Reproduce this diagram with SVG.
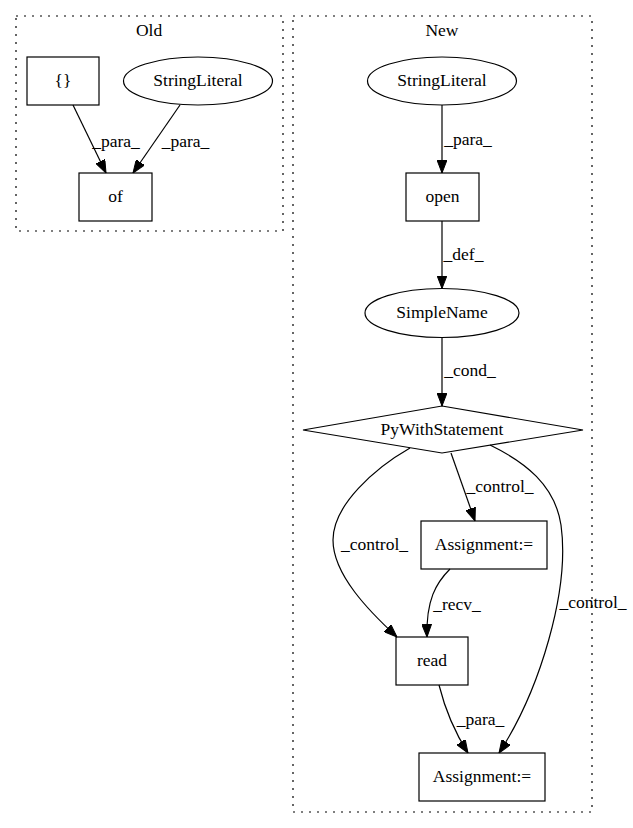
<svg xmlns="http://www.w3.org/2000/svg" width="633" height="828" viewBox="0 0 633 828">
<style>
text{font-family:"Liberation Serif","Times New Roman",serif;font-size:17.5px;fill:#000;text-anchor:middle}
.node{fill:none;stroke:#000;stroke-width:1.2}
.cluster{fill:none;stroke:#000;stroke-width:1.2;stroke-dasharray:2,6}
.edge{fill:none;stroke:#000;stroke-width:1.2;marker-end:url(#arrow)}
</style>
<defs>
<marker id="arrow" viewBox="0 0 13 10" refX="13" refY="5" markerWidth="13" markerHeight="10" markerUnits="userSpaceOnUse" orient="auto">
<path d="M0,0 L13,5 L0,10 z" fill="#000" stroke="#000" stroke-width="1"/>
</marker>
</defs>
<rect width="633" height="828" fill="#fff"/>
<g id="cluster_old">
<rect class="cluster" x="16" y="16" width="267" height="215"/>
<text x="149" y="36">Old</text>
</g>
<g id="cluster_new">
<rect class="cluster" x="293" y="16" width="299" height="796"/>
<text x="442" y="36">New</text>
</g>
<g id="connectors">
<path class="edge" d="M73,105 L106,173"/>
<text x="116" y="147">_para_</text>
<path class="edge" d="M180,105 L133,173"/>
<text x="185.5" y="147">_para_</text>
<path class="edge" d="M442,105 L442,173"/>
<text x="468" y="145">_para_</text>
<path class="edge" d="M442,221 L442,288.5"/>
<text x="463.5" y="260">_def_</text>
<path class="edge" d="M442,337.5 L442,406"/>
<text x="470" y="376">_cond_</text>
<path class="edge" d="M451,453 L475,521"/>
<text x="500" y="492">_control_</text>
<path class="edge" d="M410,448 C375,468 333,505 333,540 C333,575 370,612 397,637"/>
<text x="374.5" y="550">_control_</text>
<path class="edge" d="M490,445 C525,462 555,485 561,525 C570,590 540,690 499,753"/>
<text x="593" y="608">_control_</text>
<path class="edge" d="M450,569 C436,583 426,600 427,637"/>
<text x="457" y="610">_recv_</text>
<path class="edge" d="M439,685 C444,705 452,728 468,753"/>
<text x="480.5" y="725">_para_</text>
</g>
<g id="node_old_braces">
<rect class="node" x="27" y="57" width="72" height="48"/>
<text x="63" y="86">{}</text>
</g>
<g id="node_old_stringliteral">
<ellipse class="node" cx="198" cy="81" rx="74.5" ry="24"/>
<text x="198" y="86">StringLiteral</text>
</g>
<g id="node_old_of">
<rect class="node" x="79" y="173" width="73" height="48"/>
<text x="115.5" y="202">of</text>
</g>
<g id="node_new_stringliteral">
<ellipse class="node" cx="442" cy="81" rx="74.5" ry="24"/>
<text x="442" y="86">StringLiteral</text>
</g>
<g id="node_open">
<rect class="node" x="406" y="173" width="73" height="48"/>
<text x="442.5" y="202">open</text>
</g>
<g id="node_simplename">
<ellipse class="node" cx="442" cy="313" rx="77" ry="24.5"/>
<text x="442" y="318">SimpleName</text>
</g>
<g id="node_pywith">
<polygon class="node" points="442,406 583,430 442,453 303,430"/>
<text x="442" y="435">PyWithStatement</text>
</g>
<g id="node_assign1">
<rect class="node" x="421" y="521" width="126" height="48"/>
<text x="484" y="550">Assignment:=</text>
</g>
<g id="node_read">
<rect class="node" x="396" y="637" width="72" height="48"/>
<text x="432" y="666">read</text>
</g>
<g id="node_assign2">
<rect class="node" x="419" y="753" width="126" height="48"/>
<text x="482" y="782">Assignment:=</text>
</g>
</svg>
